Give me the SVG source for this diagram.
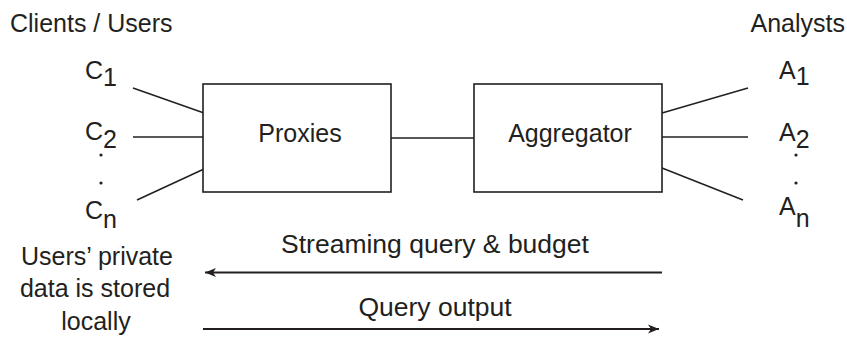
<svg xmlns="http://www.w3.org/2000/svg" width="847" height="341" viewBox="0 0 847 341">
  <style>
    text { font-family: "Liberation Sans", Arial, sans-serif; font-size: 25px; fill: #231f20; }
    .mid { text-anchor: middle; }
    .flowlabel { font-size: 26.5px; }
    .box { fill: #ffffff; stroke: #231f20; stroke-width: 1.6; }
    .wire { stroke: #231f20; stroke-width: 1.5; fill: none; }
    .flow { stroke: #231f20; stroke-width: 2; fill: none; }
    .dot { fill: #231f20; }
  </style>
  <defs>
    <marker id="head" markerUnits="userSpaceOnUse" markerWidth="14" markerHeight="12" viewBox="-12 -6 14 12" refX="0" refY="0" orient="auto">
      <path d="M0,0 L-11,-4.5 L-8,0 L-11,4.5 Z" fill="#231f20"/>
    </marker>
  </defs>

  <rect width="847" height="341" fill="#ffffff"/>

  <!-- column headings -->
  <text x="10" y="32">Clients / Users</text>
  <text x="845" y="32" text-anchor="end">Analysts</text>

  <!-- connectors -->
  <g id="connectors">
    <line class="wire" x1="133" y1="88" x2="204" y2="113"/>
    <line class="wire" x1="133" y1="137" x2="204" y2="137"/>
    <line class="wire" x1="137" y1="200" x2="204" y2="169"/>
    <line class="wire" x1="391" y1="138" x2="474" y2="138"/>
    <line class="wire" x1="662" y1="113" x2="748" y2="88"/>
    <line class="wire" x1="662" y1="137" x2="748" y2="137"/>
    <line class="wire" x1="662" y1="168" x2="743" y2="200"/>
    <line class="flow" x1="662" y1="272.5" x2="205" y2="272.5" marker-end="url(#head)"/>
    <line class="flow" x1="203" y1="329" x2="659" y2="329" marker-end="url(#head)"/>
  </g>

  <!-- clients -->
  <g id="client-1"><text x="85" y="79">C<tspan dy="7">1</tspan></text></g>
  <g id="client-2"><text x="85" y="140">C<tspan dy="8">2</tspan></text></g>
  <g id="client-dots">
    <circle class="dot" cx="101" cy="155" r="1.6"/>
    <circle class="dot" cx="101" cy="183" r="1.6"/>
  </g>
  <g id="client-n"><text x="85" y="219">C<tspan dy="9">n</tspan></text></g>

  <!-- boxes -->
  <g id="proxies">
    <rect class="box" x="203" y="84" width="188" height="108"/>
    <text class="mid" x="300" y="142">Proxies</text>
  </g>
  <g id="aggregator">
    <rect class="box" x="474" y="84" width="188" height="108"/>
    <text class="mid" x="570" y="142">Aggregator</text>
  </g>

  <!-- analysts -->
  <g id="analyst-1"><text x="779" y="79">A<tspan dy="6">1</tspan></text></g>
  <g id="analyst-2"><text x="779" y="141">A<tspan dy="7">2</tspan></text></g>
  <g id="analyst-dots">
    <circle class="dot" cx="796" cy="155" r="1.6"/>
    <circle class="dot" cx="796" cy="183" r="1.6"/>
  </g>
  <g id="analyst-n"><text x="779" y="215">A<tspan dy="12">n</tspan></text></g>

  <!-- bottom notes -->
  <g id="local-data">
    <text class="mid" x="97" y="265">Users’ private</text>
    <text class="mid" x="95" y="297">data is stored</text>
    <text class="mid" x="96" y="330">locally</text>
  </g>
  <g id="flow-labels">
    <text class="mid flowlabel" x="435" y="253">Streaming query &amp; budget</text>
    <text class="mid flowlabel" x="435" y="316">Query output</text>
  </g>
</svg>
